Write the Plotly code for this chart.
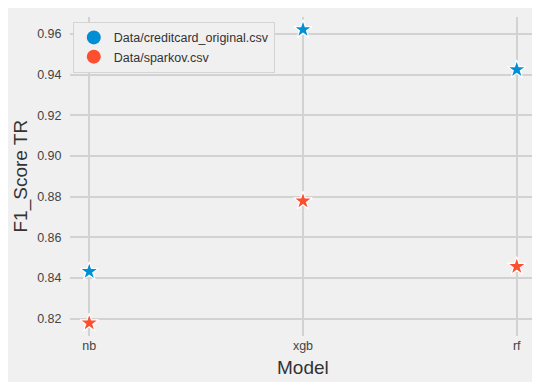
import plotly.graph_objects as go

models = ["nb", "xgb", "rf"]
series_names = ["Data/creditcard_original.csv", "Data/sparkov.csv"]
creditcard_f1 = [0.8431, 0.9621, 0.9424]
sparkov_f1 = [0.8178, 0.8778, 0.8456]
colors = ["#008fd5", "#fc4f30"]
y_ticks = [0.82, 0.84, 0.86, 0.88, 0.90, 0.92, 0.94, 0.96]

FONT = "Liberation Sans, Arial, sans-serif"
fig = go.Figure()
for name, vals, col in zip(series_names, [creditcard_f1, sparkov_f1], colors):
    fig.add_trace(go.Scatter(
        x=models, y=vals, mode="markers", name=name, showlegend=False,
        marker=dict(symbol="star", size=14, color=col, line=dict(color="white", width=1.2)),
    ))
    fig.add_trace(go.Scatter(
        x=[None], y=[None], mode="markers", name=name, showlegend=True,
        marker=dict(symbol="circle", size=14, color=col),
    ))

fig.update_layout(
    width=540, height=382,
    margin=dict(l=62, r=12, t=9, b=54),
    paper_bgcolor="#f0f0f0", plot_bgcolor="#f0f0f0",
    font=dict(family=FONT, color="#333333", size=12),
    legend=dict(x=0.006, y=0.985, xanchor="left", yanchor="top",
                bgcolor="#f0f0f0", bordercolor="#d4d4d4", borderwidth=1,
                font=dict(size=12.5, color="#333333"), tracegroupgap=0,
                itemwidth=30),
    xaxis=dict(type="category", categoryorder="array", categoryarray=models,
               range=[-0.09, 2.09], showgrid=True, gridcolor="#d2d2d2", gridwidth=1.5,
               zeroline=False, showline=False, ticks="",
               tickfont=dict(size=12.5, color="#444444"),
               automargin=False),
    yaxis=dict(range=[0.8114, 0.9683], tickvals=y_ticks,
               ticktext=[f"{v:.2f}" for v in y_ticks],
               showgrid=True, gridcolor="#d2d2d2", gridwidth=1.5, zeroline=False,
               showline=False, ticks="outside", ticklen=5, tickcolor="rgba(0,0,0,0)",
               tickfont=dict(size=12.5, color="#444444"), automargin=False),
    annotations=[
        dict(text="Model", xref="paper", yref="paper", x=0.5, y=0,
             xanchor="center", yanchor="middle", yshift=-31, showarrow=False,
             font=dict(size=19, color="#333333")),
        dict(text="F1_Score TR", xref="paper", yref="paper", x=0, y=0.5,
             xanchor="center", yanchor="middle", xshift=-50, textangle=-90,
             showarrow=False, font=dict(size=19, color="#333333")),
    ],
)

fig.write_html("out.html")
